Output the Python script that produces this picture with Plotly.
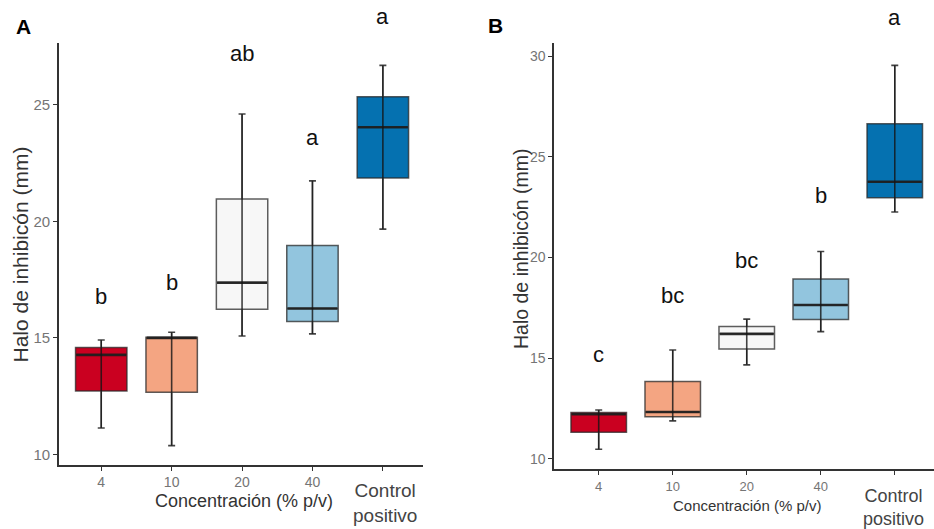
import plotly.graph_objects as go

categories = ["4", "10", "20", "40", "Control positivo"]
tick_text = ["4", "10", "20", "40", ""]
colors = ["#CA0020", "#F4A582", "#F7F7F7", "#92C5DE", "#0571B0"]

# Panel A
a_low = [11.13, 10.37, 15.08, 15.17, 19.67]
a_q1 = [12.72, 12.66, 16.23, 15.70, 21.86]
a_med = [14.27, 15.00, 17.37, 16.26, 24.04]
a_q3 = [14.58, 15.03, 20.96, 18.96, 25.35]
a_high = [14.91, 15.24, 24.61, 21.74, 26.70]
a_letters = ["b", "b", "ab", "a", "a"]
a_letter_y = [16.77, 17.36, 27.2, 23.6, 28.8]

# Panel B
b_low = [10.48, 11.89, 14.67, 16.32, 22.26]
b_q1 = [11.33, 12.10, 15.46, 16.92, 22.97]
b_med = [12.22, 12.33, 16.21, 17.64, 23.76]
b_q3 = [12.30, 13.84, 16.57, 18.93, 26.64]
b_high = [12.43, 15.41, 16.94, 20.30, 29.54]
b_letters = ["c", "bc", "bc", "b", "a"]
b_letter_y = [15.2, 18.1, 19.85, 23.1, 31.9]

A_RANGE = [9.54, 27.66]
B_RANGE = [9.5, 30.65]

FONT = "Liberation Sans, Arial, sans-serif"
box_line = "rgba(40,40,40,0.75)"
err_col = "rgba(20,20,20,0.8)"
med_col = "rgba(30,30,30,0.9)"
tick_col = "#757575"

fig = go.Figure()

def add_panel(xa, ya, low, q1, med, q3, high, width, half_px):
    for i, c in enumerate(categories):
        fig.add_trace(go.Box(
            x=[c], q1=[q1[i]], median=[med[i]], q3=[q3[i]],
            lowerfence=[low[i]], upperfence=[high[i]],
            fillcolor=colors[i], line=dict(color=box_line, width=1.5),
            width=width, whiskerwidth=0, boxpoints=False,
            xaxis=xa, yaxis=ya, showlegend=False, hoverinfo="skip"))
    # thick median lines
    fig.add_trace(go.Scatter(
        x=categories, y=med, mode="markers",
        marker=dict(size=1, color="rgba(0,0,0,0)"),
        error_y=dict(type="data", array=[0] * len(med),
                     color=med_col, thickness=2.6, width=half_px),
        xaxis=xa, yaxis=ya, showlegend=False, hoverinfo="skip"))
    # whiskers with caps
    fig.add_trace(go.Scatter(
        x=categories, y=low, mode="markers",
        marker=dict(size=1, color="rgba(0,0,0,0)"),
        error_y=dict(type="data", symmetric=False,
                     array=[h - l for h, l in zip(high, low)],
                     arrayminus=[0] * len(low),
                     color=err_col, thickness=1.6, width=3.5),
        xaxis=xa, yaxis=ya, showlegend=False, hoverinfo="skip"))

add_panel("x", "y", a_low, a_q1, a_med, a_q3, a_high, 0.73, 25)
add_panel("x2", "y2", b_low, b_q1, b_med, b_q3, b_high, 0.75, 27)

axis_common = dict(showline=True, linecolor="#333333", linewidth=1.8,
                   ticks="outside", tickcolor="#333333", ticklen=4, tickwidth=1.3,
                   showgrid=False, zeroline=False)

fig.update_layout(
    width=934, height=529,
    margin=dict(l=0, r=0, t=0, b=0),
    paper_bgcolor="white", plot_bgcolor="white",
    font=dict(family=FONT),
    xaxis=dict(domain=[59/934, 423/934], anchor="y", type="category",
               categoryorder="array", categoryarray=categories,
               tickvals=categories, ticktext=tick_text,
               range=[-0.6, 4.57], ticklabelstandoff=-1,
               tickfont=dict(size=14, color=tick_col), **axis_common),
    yaxis=dict(domain=[64/529, 486/529], anchor="x",
               range=A_RANGE, tickvals=[10, 15, 20, 25],
               tickfont=dict(size=15, color=tick_col), **axis_common),
    xaxis2=dict(domain=[554.3/934, 1.0], anchor="y2", type="category",
                categoryorder="array", categoryarray=categories,
                tickvals=categories, ticktext=tick_text,
                range=[-0.6, 4.53], ticklabelstandoff=0,
                tickfont=dict(size=13, color=tick_col), **axis_common),
    yaxis2=dict(domain=[60/529, 486/529], anchor="x2",
                range=B_RANGE, tickvals=[10, 15, 20, 25, 30],
                tickfont=dict(size=14, color=tick_col), **axis_common),
)

def frac(v, r):
    return (v - r[0]) / (r[1] - r[0])

ann = []
for i in range(len(categories)):
    ann.append(dict(x=i, y=frac(a_letter_y[i], A_RANGE), xref="x", yref="y domain",
                    text=a_letters[i], showarrow=False, xanchor="center", yanchor="middle",
                    font=dict(size=22, color="#111111")))
    ann.append(dict(x=i, y=frac(b_letter_y[i], B_RANGE), xref="x2", yref="y2 domain",
                    text=b_letters[i], showarrow=False, xanchor="center", yanchor="middle",
                    font=dict(size=22, color="#111111")))

C = dict(showarrow=False, xanchor="center", yanchor="middle")

# "Control positivo" labels
ann.append(dict(x=4, y=(529 - 503) / 529, xref="x", yref="paper",
                text="Control<br>positivo", xshift=2,
                font=dict(size=19, color="#444444"), **C))
ann.append(dict(x=4, y=(529 - 507) / 529, xref="x2", yref="paper",
                text="Control<br>positivo", xshift=-1,
                font=dict(size=18, color="#444444"), **C))

# Axis titles
ann += [
    dict(x=244/934, y=(529 - 501)/529, xref="paper", yref="paper",
         text="Concentración (% p/v)",
         font=dict(size=18, color="#333333"), **C),
    dict(x=746.5/934, y=(529 - 505)/529, xref="paper", yref="paper",
         text="Concentración (% p/v)",
         font=dict(size=15, color="#333333"), **C),
    dict(x=19.5/934, y=(529 - 255)/529, xref="paper", yref="paper",
         text="Halo de inhibicón (mm)", textangle=-90,
         font=dict(size=21, color="#333333"), **C),
    dict(x=521/934, y=(529 - 249)/529, xref="paper", yref="paper",
         text="Halo de inhibicón (mm)", textangle=-90,
         font=dict(size=19.5, color="#333333"), **C),
    dict(x=23/934, y=(529 - 26)/529, xref="paper", yref="paper",
         text="<b>A</b>", font=dict(size=21, color="#000000"), **C),
    dict(x=495.5/934, y=(529 - 25)/529, xref="paper", yref="paper",
         text="<b>B</b>", font=dict(size=21, color="#000000"), **C),
]
fig.update_layout(annotations=ann)

fig.write_html("out.html")
